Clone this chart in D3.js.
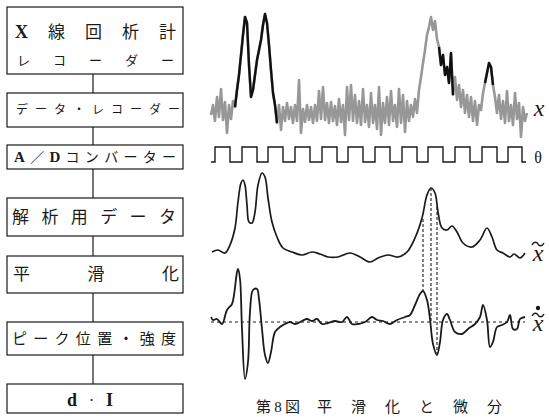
<!doctype html>
<html>
<head>
<meta charset="utf-8">
<script src="https://d3js.org/d3.v7.min.js"></script>
<style>body{margin:0;background:#fff}</style>
</head>
<body>
<script>
// ---- flowchart steps ----
var steps = [
  ["X線回析計", "レコーダー"],
  ["データ・レコーダー"],
  ["A／Dコンバーター"],
  ["解析用データ"],
  ["平滑化"],
  ["ピーク位置・強度"],
  ["d · I"]
];
var caption = ["第8図", "平滑化と微分"];

// ---- raw diffractometer trace x (one sample every 2 channels) ----
var rawX = [20,30,14,38,18,46,15,33,2,30,16,34,28,45,60,80,100,118,112,70,
  38,45,60,75,85,95,110,121,112,90,65,42,30,12,30,5,28,14,32,16,
  28,12,30,14,55,2,26,13,30,15,28,12,30,14,44,16,48,15,32,12,
  33,14,29,10,36,13,30,0,48,15,50,14,40,12,34,10,46,13,30,8,
  42,12,30,6,48,0,32,12,38,10,44,14,30,8,46,12,40,3,34,14,
  30,18,36,22,45,58,72,85,100,108,118,105,114,96,88,70,80,60,68,52,
  82,40,58,35,50,28,45,22,40,18,38,14,34,10,30,25,42,52,62,72,
  68,50,38,22,40,16,34,12,44,14,30,10,42,16,32,-2,28,14,22];
var rawStep = 2;
var darkRanges = [[24, 66], [228, 242], [274, 282]];

// ---- goniometer angle pulses theta (channel of each edge) ----
var thetaEdges = [4,19,31,46,57,72,84,99,111,126,137,152,164,179,191,206,217,232,244,259,271,286,297,311];
var thetaEnd = 315;

// ---- smoothed trace x~ [channel, value] ----
var smooth = [[1,13],[7,15],[14,12],[19,20],[24,37],[27,63],[30,82],[32,85],[34,80],[36,60],
  [38,43],[41,42],[44,53],[47,80],[51,92],[54,88],[57,67],[61,43],[66,28],[72,17],
  [81,13],[91,10],[101,13],[109,11],[117,8],[127,8],[139,12],[149,8],[159,3],[167,7],
  [177,10],[187,8],[196,13],[204,27],[211,47],[216,70],[220,77],[224,72],[227,53],[231,37],
  [236,35],[241,39],[246,33],[252,22],[261,18],[269,25],[276,37],[281,28],[286,15],[292,12],
  [299,8],[303,11],[309,7],[314,12]];

// ---- derivative of smoothed trace [channel, value] ----
var deriv = [[0,5],[2,2],[6,3],[11,-2],[16,12],[21,18],[23,27],[26,50],[27,53],[29,43],
  [31,-7],[34,-57],[37,-40],[39,10],[42,32],[46,33],[48,23],[51,-7],[54,-33],[57,-41],
  [60,-30],[64,-10],[69,-5],[74,-2],[79,0],[84,-2],[91,1],[96,3],[101,1],[106,3],
  [111,-2],[117,-1],[124,1],[131,0],[136,5],[141,-2],[147,-2],[154,0],[161,5],[166,2],
  [172,1],[179,-2],[186,2],[194,5],[199,7],[204,17],[209,28],[212,31],[216,22],[219,3],
  [222,-22],[226,-33],[229,-20],[232,2],[236,8],[239,2],[244,-10],[251,-12],[257,-7],[264,-2],
  [269,5],[272,17],[276,2],[279,-25],[282,-20],[286,-5],[291,-3],[296,0],[299,7],[302,-7],
  [306,-7],[309,3],[314,5]];

// peak-position drop lines: [channel, smoothed value, derivative value]
var dropLines = [[212, 46, 31], [220, 77, 0], [226, 58, -33]];

var W = 549, H = 417;
var svg = d3.select("body").append("svg").attr("width", W).attr("height", H);

var jp = "'Liberation Serif','Noto Sans CJK JP',serif";
var ink = "#1a1a1a";

// ---- flowchart ----
var boxLayout = [
  {top: 7, bottom: 74, rows: [{y: 32, x0: 15, x1: 176, size: 17}, {y: 60, x0: 17, x1: 174, size: 13}]},
  {top: 93, bottom: 127, rows: [{y: 110, x0: 16, x1: 180, size: 12}]},
  {top: 145, bottom: 169, rows: [{y: 157, x0: 14, x1: 176, size: 14}]},
  {top: 198, bottom: 236, rows: [{y: 217, x0: 12, x1: 176, size: 17}]},
  {top: 256, bottom: 293, rows: [{y: 274, x0: 13, x1: 179, size: 17}]},
  {top: 322, bottom: 355, rows: [{y: 339, x0: 12, x1: 176, size: 15}]},
  {top: 384, bottom: 413, rows: [{y: 400, x0: 67, x1: 113, size: 17}]}
];
var boxX0 = 7, boxX1 = 183, linkX = 93;

var fc = svg.append("g");
boxLayout.forEach(function(b, i) {
  fc.append("rect")
    .attr("x", boxX0).attr("y", b.top)
    .attr("width", boxX1 - boxX0).attr("height", b.bottom - b.top)
    .attr("fill", "none").attr("stroke", ink).attr("stroke-width", 1.2);
  if (i > 0) {
    fc.append("line")
      .attr("x1", linkX).attr("x2", linkX)
      .attr("y1", boxLayout[i - 1].bottom).attr("y2", b.top)
      .attr("stroke", ink).attr("stroke-width", 1.2);
  }
  b.rows.forEach(function(r, j) {
    var t = fc.append("text")
      .attr("x", r.x0).attr("y", r.y)
      .attr("dominant-baseline", "central")
      .attr("font-family", jp).attr("font-size", r.size)
      .attr("fill", ink)
      .attr("textLength", r.x1 - r.x0).attr("lengthAdjust", "spacing");
    Array.from(steps[i][j]).forEach(function(ch) {
      var latin = /[A-Za-z]/.test(ch);
      t.append("tspan").text(ch)
        .attr("font-weight", latin ? "bold" : "normal")
        .attr("font-size", latin ? r.size + 1 : r.size);
    });
  });
});

// ---- traces ----
var x = d3.scaleLinear().domain([0, 316]).range([211, 527]);
var yRaw = d3.scaleLinear().domain([0, 125]).range([135, 10]);
var yTheta = d3.scaleLinear().domain([0, 1]).range([162, 147]);
var ySmooth = d3.scaleLinear().domain([0, 100]).range([265, 165]);
var yDeriv = d3.scaleLinear().domain([-60, 60]).range([382, 262]);

var rawPts = rawX.map(function(v, i) { return [i * rawStep, v]; });
var rawLine = d3.line().x(function(d) { return x(d[0]); }).y(function(d) { return yRaw(d[1]); });

svg.append("path").attr("d", rawLine(rawPts))
  .attr("fill", "none").attr("stroke", "#979797").attr("stroke-width", 2.6)
  .attr("stroke-linejoin", "round");

darkRanges.forEach(function(r) {
  var seg = rawPts.filter(function(d) { return d[0] >= r[0] && d[0] <= r[1]; });
  svg.append("path").attr("d", rawLine(seg))
    .attr("fill", "none").attr("stroke", "#111").attr("stroke-width", 2.4)
    .attr("stroke-linejoin", "round");
});

// theta pulses
var thetaPts = [[0, 0]];
thetaEdges.forEach(function(e, i) { thetaPts.push([e, i % 2 === 0 ? 1 : 0]); });
thetaPts.push([thetaEnd, 0]);
svg.append("path")
  .attr("d", d3.line().curve(d3.curveStepAfter)
    .x(function(d) { return x(d[0]); }).y(function(d) { return yTheta(d[1]); })(thetaPts))
  .attr("fill", "none").attr("stroke", ink).attr("stroke-width", 1.4);

// smoothed
svg.append("path")
  .attr("d", d3.line().curve(d3.curveCatmullRom)
    .x(function(d) { return x(d[0]); }).y(function(d) { return ySmooth(d[1]); })(smooth))
  .attr("fill", "none").attr("stroke", ink).attr("stroke-width", 1.7);

// derivative zero line
svg.append("line")
  .attr("x1", x(0)).attr("x2", x(314))
  .attr("y1", yDeriv(0)).attr("y2", yDeriv(0))
  .attr("stroke", ink).attr("stroke-width", 1).attr("stroke-dasharray", "3,3");

svg.append("path")
  .attr("d", d3.line().curve(d3.curveCatmullRom)
    .x(function(d) { return x(d[0]); }).y(function(d) { return yDeriv(d[1]); })(deriv))
  .attr("fill", "none").attr("stroke", ink).attr("stroke-width", 1.8);

// drop lines
dropLines.forEach(function(d) {
  svg.append("line")
    .attr("x1", x(d[0])).attr("x2", x(d[0]))
    .attr("y1", ySmooth(d[1])).attr("y2", yDeriv(d[2]))
    .attr("stroke", ink).attr("stroke-width", 1.1).attr("stroke-dasharray", "3,2");
});

// ---- trace labels ----
var lab = svg.append("g").attr("font-family", "'Liberation Serif','DejaVu Serif',serif").attr("fill", ink)
  .attr("text-anchor", "middle");
lab.append("text").attr("x", 539).attr("y", 116).attr("font-size", 24).attr("font-style", "italic").text("x");
lab.append("text").attr("x", 538).attr("y", 163).attr("font-size", 16).text("θ");
lab.append("text").attr("x", 538).attr("y", 261).attr("font-size", 24).attr("font-style", "italic").text("x");
lab.append("text").attr("x", 538).attr("y", 331).attr("font-size", 24).attr("font-style", "italic").text("x");

// tilde marks drawn as small strokes
function tilde(cx, cy) {
  lab.append("path")
    .attr("d", "M" + (cx - 6) + "," + (cy + 1) + " C" + (cx - 4) + "," + (cy - 3) + " " + (cx - 1) + "," + (cy - 2) + " " + cx + "," + cy +
      " S" + (cx + 4) + "," + (cy + 3) + " " + (cx + 6) + "," + (cy - 1))
    .attr("fill", "none").attr("stroke", ink).attr("stroke-width", 1.5);
}
tilde(538, 244);
tilde(538, 315);
lab.append("circle").attr("cx", 538).attr("cy", 308).attr("r", 2.2).attr("fill", ink);

// ---- caption ----
svg.append("text").attr("x", 256).attr("y", 407).attr("dominant-baseline", "central")
  .attr("font-family", jp).attr("font-size", 15).attr("fill", ink)
  .attr("textLength", 44).attr("lengthAdjust", "spacing").text(caption[0]);
svg.append("text").attr("x", 317).attr("y", 407).attr("dominant-baseline", "central")
  .attr("font-family", jp).attr("font-size", 15).attr("fill", ink)
  .attr("textLength", 185).attr("lengthAdjust", "spacing").text(caption[1]);
</script>
</body>
</html>
